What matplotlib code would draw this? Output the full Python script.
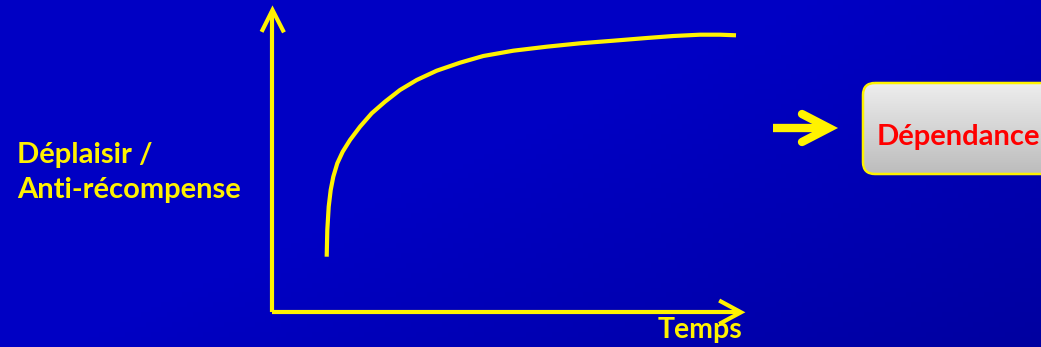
import numpy as np
import matplotlib
matplotlib.use("Agg")
import matplotlib.pyplot as plt
from matplotlib.patches import FancyBboxPatch

# curve (pixel coords, y down)
curve_x = [326.7, 327.3, 328.7, 330.7, 333.3, 337.3, 342.7, 350, 360, 371.7, 385,
           400, 416.7, 436.7, 460, 483.3, 513.3, 546.7, 580, 613.3, 646.7, 673.3,
           700, 720, 736]
curve_y = [256.7, 230, 206.7, 190, 176.7, 163.3, 151.7, 140, 126.7, 113.3, 101.7,
           90, 80, 70.7, 62.7, 56, 50.7, 46.7, 43.3, 40.7, 38, 36, 34.7, 34.7, 35.3]

y_label_lines = ["Déplaisir /", "Anti-récompense"]
x_label = "Temps"
box_label = "Dépendance"

YELLOW = "#FFF200"
W, H = 1041, 347

fig = plt.figure(figsize=(W / 100, H / 100), dpi=100)
ax = fig.add_axes([0, 0, 1, 1])
ax.set_xlim(0, W)
ax.set_ylim(H, 0)
ax.axis("off")

# blue background, slightly darker toward bottom right
gx, gy = np.meshgrid(np.linspace(0, 1, 200), np.linspace(0, 1, 70))
d = np.clip((gx * 0.7 + gy * 0.5) - 0.55, 0, None) / 0.65
bg = np.zeros((70, 200, 3))
bg[..., 2] = (196 - 36 * d) / 255
ax.imshow(bg, extent=[0, W, H, 0], aspect="auto", zorder=0)

lw_axis = 3.0
# axes with open arrow heads
ax.plot([272, 272], [312, 11], color=YELLOW, lw=lw_axis, solid_capstyle="butt", zorder=2)
ax.plot([272, 740], [312, 312], color=YELLOW, lw=lw_axis, solid_capstyle="butt", zorder=2)
ax.plot([262.5, 272.5, 283], [30, 10, 30.5], color=YELLOW, lw=lw_axis, zorder=2,
        solid_joinstyle="miter")
ax.plot([721, 741, 721], [301.5, 312.3, 323], color=YELLOW, lw=lw_axis, zorder=2,
        solid_joinstyle="miter")

ax.plot(curve_x, curve_y, color=YELLOW, lw=3.0, solid_capstyle="butt",
        solid_joinstyle="round", zorder=3)

# labels
ax.text(17, 155, y_label_lines[0], color=YELLOW, fontsize=21, fontweight="bold",
        family="Lato", va="center", ha="left")
ax.text(17, 190, y_label_lines[1], color=YELLOW, fontsize=21, fontweight="bold",
        family="Lato", va="center", ha="left")
ax.text(742, 330, x_label, color=YELLOW, fontsize=20.5, fontweight="bold",
        family="Lato", va="center", ha="right")

# thick right arrow
ax.plot([773, 828], [128, 128], color=YELLOW, lw=6, solid_capstyle="butt", zorder=3)
ax.plot([802, 829, 802], [114, 128, 142], color=YELLOW, lw=6, zorder=3,
        solid_capstyle="round", solid_joinstyle="miter")

# grey gradient box
box = FancyBboxPatch((863, 83), 200, 91, boxstyle="round,pad=0,rounding_size=12",
                     facecolor="none", edgecolor=YELLOW, lw=1.8, zorder=5)
ax.add_patch(box)
grad = np.linspace(0.93, 0.74, 60)[:, None] * np.ones((60, 4))
grad_img = np.dstack([grad[:, :1]] * 3) * np.ones((60, 4, 3))
im = ax.imshow(grad_img, extent=[863, 1063, 174, 83], aspect="auto", zorder=4)
im.set_clip_path(box)
ax.text(877, 137, box_label, color="#FF0000", fontsize=21, fontweight="bold",
        family="Lato", va="center", ha="left", zorder=6)

ax.set_xlim(0, W)
ax.set_ylim(H, 0)
fig.savefig("out.png", dpi=100)
